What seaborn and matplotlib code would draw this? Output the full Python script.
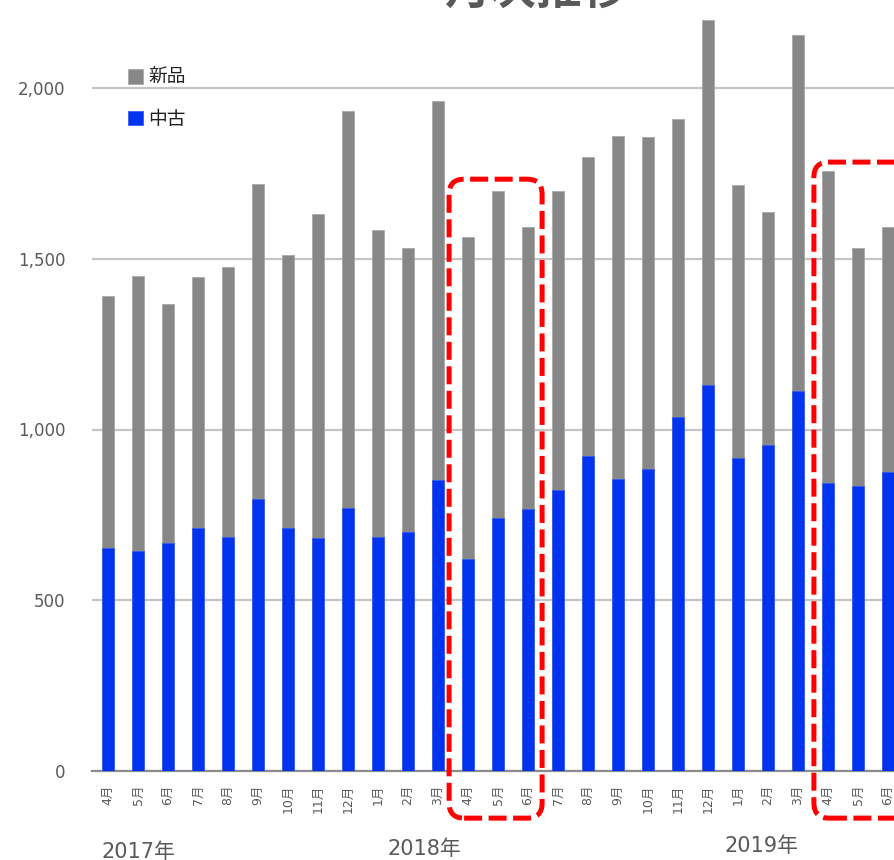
import numpy as np
import pandas as pd
import matplotlib
matplotlib.use("Agg")
import matplotlib.pyplot as plt
import seaborn as sns
from matplotlib.patches import Patch, FancyBboxPatch
from matplotlib.transforms import IdentityTransform, blended_transform_factory

# ---- data -------------------------------------------------------------
periods = [
    "2017-04", "2017-05", "2017-06", "2017-07", "2017-08", "2017-09",
    "2017-10", "2017-11", "2017-12", "2018-01", "2018-02", "2018-03",
    "2018-04", "2018-05", "2018-06", "2018-07", "2018-08", "2018-09",
    "2018-10", "2018-11", "2018-12", "2019-01", "2019-02", "2019-03",
    "2019-04", "2019-05", "2019-06",
]
month_labels = [
    "4月", "5月", "6月", "7月", "8月", "9月", "10月", "11月", "12月",
    "1月", "2月", "3月", "4月", "5月", "6月", "7月", "8月", "9月",
    "10月", "11月", "12月", "1月", "2月", "3月", "4月", "5月", "6月",
]
used = [   # 中古
    653, 644, 668, 712, 685, 796, 712, 682, 770,
    685, 700, 852, 621, 741, 767, 823, 922, 855,
    884, 1037, 1130, 917, 955, 1113, 843, 835, 876,
]
new = [    # 新品
    738, 805, 699, 735, 791, 923, 799, 949, 1163,
    899, 831, 1110, 943, 957, 826, 875, 876, 1004,
    972, 872, 1069, 799, 682, 1042, 914, 696, 717,
]
year_labels = ["2017年", "2018年", "2019年"]
year_label_x = [1.03, 10.53, 21.8]          # category-axis positions
year_label_y = [852, 849, 846]              # pixel rows from the top
highlight_ranges = [(11.37, 14.47, -138, 1733), (23.53, 27.2, -138, 1783)]
title = "月次推移"

# ---- style ------------------------------------------------------------
sns.set_style("white")
plt.rcParams["font.family"] = ["DejaVu Sans", "Noto Sans CJK JP"]

GRAY = "#878787"
BLUE = "#0033ee"
TEXT = "#595959"

df = pd.DataFrame({"period": periods, "中古": used, "新品": new})
df["total"] = df["中古"] + df["新品"]

W, H = 895, 860
fig = plt.figure(figsize=(W / 100, H / 100), dpi=100)
ax = fig.add_axes([92 / W, (H - 771) / H, 1 - 92 / W, 771 / H])

# stacked bars: full total in gray, used share in blue on top of it
sns.barplot(data=df, x="period", y="total", color=GRAY, width=0.43,
            saturation=1, errorbar=None, edgecolor="#a8a8a8", linewidth=0.6,
            ax=ax, zorder=2)
sns.barplot(data=df, x="period", y="中古", color=BLUE, width=0.43,
            saturation=1, errorbar=None, edgecolor="#3a5cf0", linewidth=0.6,
            ax=ax, zorder=3)

ax.set_yticks([0, 500, 1000, 1500, 2000])
ax.set_yticklabels(["0", "500", "1,000", "1,500", "2,000"])
ax.tick_params(axis="y", length=0, pad=19, labelsize=12, labelcolor=TEXT)
ax.yaxis.grid(True, color="#c4c4c4", linewidth=1.6)
ax.set_axisbelow(True)

ax.set_xticks(range(len(periods)))
ax.set_xticklabels(month_labels, rotation=90, va="top", ha="center")
ax.tick_params(axis="x", which="major", length=0, pad=10,
               labelsize=9, labelcolor=TEXT)
ax.set_xticks(np.arange(len(periods) + 1) - 0.5, minor=True)
ax.tick_params(axis="x", which="minor", length=4, width=1.5,
               color="#8c8c8c", direction="out")
ax.set_xlabel("")
ax.set_ylabel("")

# limits last, so tick placement cannot widen them
ymax = 771 / 0.3415
ax.set_xlim(-0.533, (W - 108) / 30)
ax.set_ylim(0, ymax)

for side in ["left", "right", "top"]:
    ax.spines[side].set_visible(False)
ax.spines["bottom"].set_color("#8c8c8c")
ax.spines["bottom"].set_linewidth(1.6)

# legend
handles = [Patch(facecolor=GRAY, edgecolor="#a8a8a8", linewidth=0.6),
           Patch(facecolor=BLUE, edgecolor="#3a5cf0", linewidth=0.6)]
ax.legend(handles, ["新品", "中古"], loc="upper left",
          bbox_to_anchor=(128 / W, 1 - 68 / H), bbox_transform=fig.transFigure,
          frameon=False, fontsize=13.5, handlelength=0.78, handleheight=0.78,
          handletextpad=0.3, labelspacing=1.2, borderpad=0, borderaxespad=0,
          labelcolor="#222222")

# title (partly above the canvas)
fig.text(536 / W, 1 - 5 / H, title, ha="center", va="baseline",
         fontsize=33, fontweight="bold", color=TEXT)

# year labels under the month axis
ytrans = blended_transform_factory(ax.transData, fig.transFigure)
for lbl, xv, yp in zip(year_labels, year_label_x, year_label_y):
    ax.text(xv, 1 - yp / H, lbl, transform=ytrans, ha="center", va="center",
            fontsize=15, color=TEXT, clip_on=False)

# dashed rounded frames around the April-June periods
for x0, x1, y0, y1 in highlight_ranges:
    px0, py0 = ax.transData.transform((x0, y0))
    px1, py1 = ax.transData.transform((x1, y1))
    box = FancyBboxPatch((px0, py0), px1 - px0, py1 - py0,
                         boxstyle="round,pad=0,rounding_size=15",
                         transform=IdentityTransform(), fill=False,
                         edgecolor="#ff0000", linewidth=3.6,
                         linestyle=(0, (3.6, 1.3)), zorder=5)
    fig.add_artist(box)

fig.savefig("out.png", dpi=100)
